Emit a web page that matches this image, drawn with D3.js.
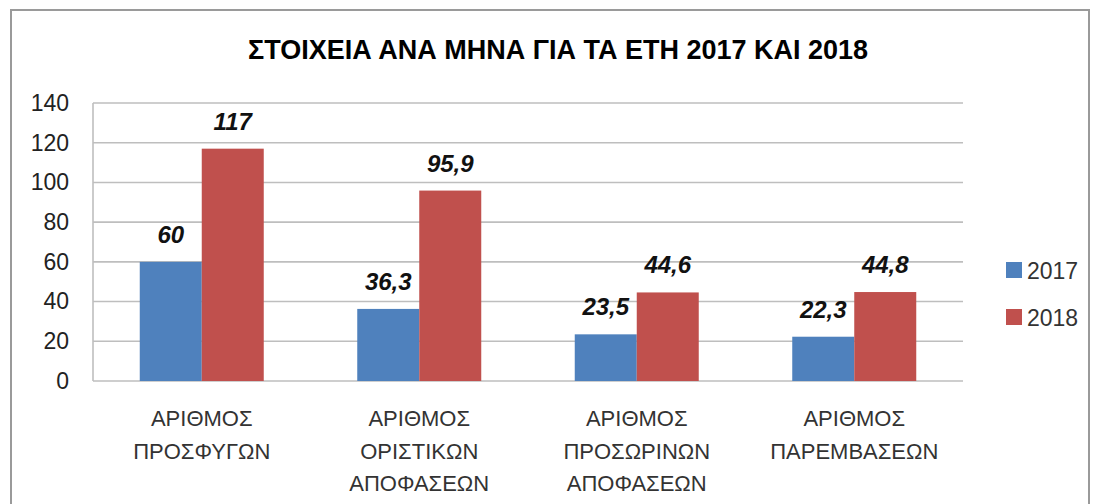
<!DOCTYPE html>
<html>
<head>
<meta charset="utf-8">
<script src="https://cdn.jsdelivr.net/npm/d3@7"></script>
<style>
  html, body { margin: 0; padding: 0; background: #fff; }
  svg { display: block; }
</style>
</head>
<body>
<svg id="chart" width="1095" height="504"></svg>
<script>
const title = "ΣΤΟΙΧΕΙΑ ΑΝΑ ΜΗΝΑ ΓΙΑ ΤΑ ΕΤΗ 2017 ΚΑΙ 2018";
const categories = [
  ["ΑΡΙΘΜΟΣ", "ΠΡΟΣΦΥΓΩΝ"],
  ["ΑΡΙΘΜΟΣ", "ΟΡΙΣΤΙΚΩΝ", "ΑΠΟΦΑΣΕΩΝ"],
  ["ΑΡΙΘΜΟΣ", "ΠΡΟΣΩΡΙΝΩΝ", "ΑΠΟΦΑΣΕΩΝ"],
  ["ΑΡΙΘΜΟΣ", "ΠΑΡΕΜΒΑΣΕΩΝ"]
];
const seriesNames = ["2017", "2018"];
const values2017 = [60, 36.3, 23.5, 22.3];
const values2018 = [117, 95.9, 44.6, 44.8];
const yTicks = [0, 20, 40, 60, 80, 100, 120, 140];
const colors = ["#4F81BD", "#C0504D"];

const svg = d3.select("#chart");
const font = "'Liberation Sans', Arial, sans-serif";

// outer frame
svg.append("rect")
  .attr("x", 11).attr("y", 10).attr("width", 1078).attr("height", 520)
  .attr("fill", "#fff").attr("stroke", "#9a9a9a").attr("stroke-width", 2);

const plot = { left: 93, right: 963, top: 103, bottom: 381 };

const y = d3.scaleLinear().domain([0, 140]).range([plot.bottom, plot.top]);
const catIdx = categories.map((d, i) => i);
const x0 = d3.scaleBand().domain(catIdx).range([plot.left, plot.right]).padding(0);
const x1 = d3.scaleBand().domain(seriesNames).range([0, x0.bandwidth()])
  .paddingInner(0).paddingOuter(0.754);

// title
svg.append("text")
  .attr("x", 558).attr("y", 59)
  .attr("text-anchor", "middle")
  .attr("font-family", font).attr("font-weight", "bold").attr("font-size", 27)
  .attr("fill", "#000")
  .text(title);

// gridlines
svg.append("g").selectAll("line").data(yTicks).join("line")
  .attr("x1", plot.left).attr("x2", plot.right)
  .attr("y1", d => y(d)).attr("y2", d => y(d))
  .attr("stroke", "#BEBEBE").attr("stroke-width", 1.6);

// left axis line
svg.append("line")
  .attr("x1", plot.left).attr("x2", plot.left)
  .attr("y1", plot.top).attr("y2", plot.bottom)
  .attr("stroke", "#BEBEBE").attr("stroke-width", 1.6);

// y axis labels
const yAxis = svg.append("g")
  .attr("transform", `translate(${plot.left},0)`)
  .call(d3.axisLeft(y).tickValues(yTicks).tickSize(0).tickPadding(24));
yAxis.select(".domain").remove();
yAxis.selectAll("text")
  .attr("font-family", font).attr("font-size", 23).attr("fill", "#222");

// bars + data labels
const series = [values2017, values2018];
seriesNames.forEach((name, si) => {
  svg.append("g").selectAll("rect").data(series[si]).join("rect")
    .attr("x", (d, i) => x0(i) + x1(name))
    .attr("y", d => y(d))
    .attr("width", x1.bandwidth())
    .attr("height", d => y(0) - y(d))
    .attr("fill", colors[si]);
  svg.append("g").selectAll("text").data(series[si]).join("text")
    .attr("x", (d, i) => x0(i) + x1(name) + x1.bandwidth() / 2)
    .attr("y", d => y(d) - 19)
    .attr("text-anchor", "middle")
    .attr("font-family", font).attr("font-weight", "bold").attr("font-style", "italic")
    .attr("font-size", 24).attr("fill", "#111")
    .text(d => String(d).replace(".", ","));
});

// category labels
const catG = svg.append("g");
categories.forEach((lines, i) => {
  const t = catG.append("text")
    .attr("text-anchor", "middle")
    .attr("font-family", font).attr("font-size", 22).attr("fill", "#333");
  lines.forEach((ln, j) => {
    t.append("tspan")
      .attr("x", x0(i) + x0.bandwidth() / 2)
      .attr("y", 426 + j * 32.5)
      .text(ln);
  });
});

// legend
const lg = svg.append("g");
seriesNames.forEach((name, si) => {
  const cy = 270 + si * 47;
  lg.append("rect")
    .attr("x", 1006).attr("y", cy - 8).attr("width", 16).attr("height", 16)
    .attr("fill", colors[si]);
  lg.append("text")
    .attr("x", 1027).attr("y", cy + 8.5)
    .attr("font-family", font).attr("font-size", 23).attr("fill", "#333")
    .text(name);
});
</script>
</body>
</html>
